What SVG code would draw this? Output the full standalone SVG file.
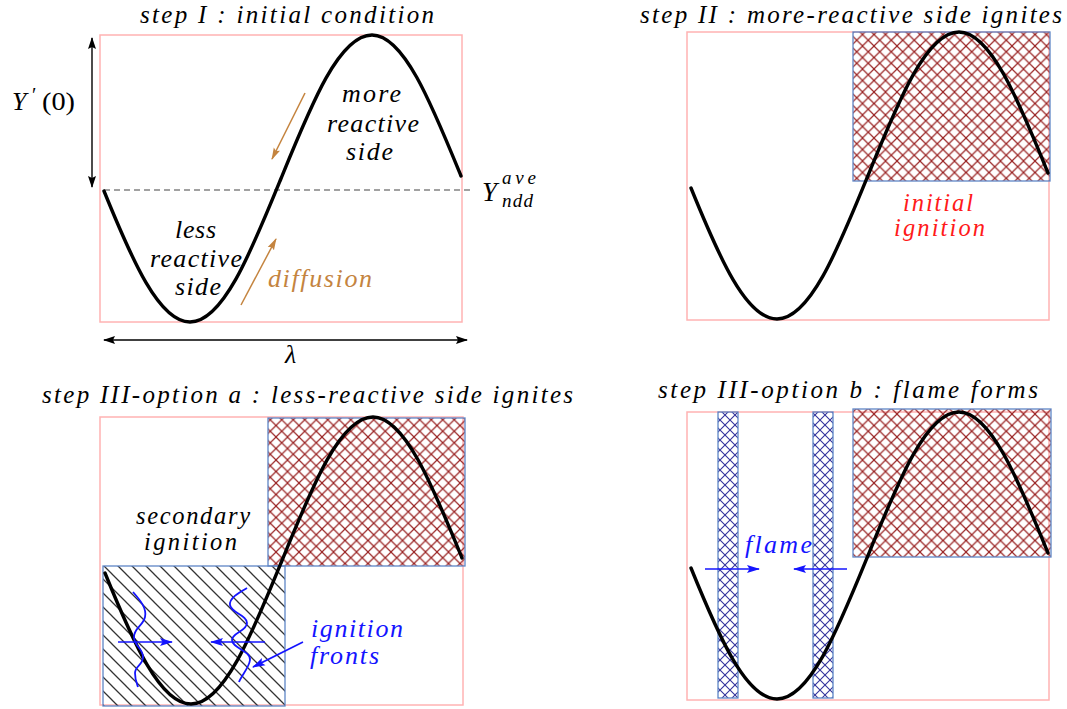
<svg xmlns="http://www.w3.org/2000/svg" xmlns:xlink="http://www.w3.org/1999/xlink" width="1067" height="709" viewBox="0 0 1067 709">
<style>
  .frame{fill:none;stroke:#ffb3b3;stroke-width:1.5}
  .wave{fill:none;stroke:#000;stroke-width:3.4;stroke-linecap:round}
  .hbox{stroke:#5f86c6;stroke-width:1.3}
  .blue{fill:#1414ff}
  .red{fill:#ff1a1a}
  .brown{fill:#c4843f}
  .ba{stroke:#000;stroke-width:1.4;fill:none}
  .bra{stroke:#c4843f;stroke-width:1.5;fill:none}
  .bla{stroke:#1414ff;stroke-width:1.6;fill:none}
</style>
<defs>
  <pattern id="xred" width="11.5" height="11.5" patternUnits="userSpaceOnUse">
    <path d="M0,0 L11.5,11.5 M11.5,0 L0,11.5" stroke="#9a2424" stroke-width="1.2" fill="none"/>
  </pattern>
  <pattern id="xblue" width="10" height="10" patternUnits="userSpaceOnUse">
    <path d="M0,0 L10,10 M10,0 L0,10" stroke="#34349c" stroke-width="1.1" fill="none"/>
  </pattern>
  <pattern id="hblack" width="14" height="14" patternUnits="userSpaceOnUse">
    <path d="M0,0 L14,14 M13,-1 L15,1 M-1,13 L1,15" stroke="#333" stroke-width="1.3" fill="none"/>
  </pattern>
  <marker id="ahk" markerWidth="12" markerHeight="10" refX="11" refY="5" orient="auto-start-reverse" markerUnits="userSpaceOnUse">
    <path d="M0,1 L12,5 L0,9 L2,5 Z" fill="#000"/>
  </marker>
  <marker id="ahb" markerWidth="12" markerHeight="8" refX="11" refY="4" orient="auto" markerUnits="userSpaceOnUse">
    <path d="M0,0.5 L12,4 L0,7.5 L2,4 Z" fill="#c4843f"/>
  </marker>
  <marker id="ahu" markerWidth="13" markerHeight="9" refX="12" refY="4.5" orient="auto" markerUnits="userSpaceOnUse">
    <path d="M0,0.5 L13,4.5 L0,8.5 L2.5,4.5 Z" fill="#1414ff"/>
  </marker>
  <path id="wave" class="wave" d="M104,191 C132,260 159,322 190,322 C223,322 251,252 281,178.5 C311,105 339,35 372,35 C404,35 432,105 461,176"/>
</defs>
<rect width="1067" height="709" fill="#fff"/>

<g id="panel1">
  <rect class="frame" x="100" y="35" width="362" height="287"/>
  <line x1="104" y1="190" x2="472" y2="190" stroke="#444" stroke-width="1.2" stroke-dasharray="6 4"/>
  <use xlink:href="#wave"/>
  <g font-family="Liberation Serif, serif" font-style="italic" font-size="26" fill="#000">
    <text x="140" y="23" font-size="25" textLength="294" lengthAdjust="spacing">step I : initial condition</text>
    <text x="12" y="110" textLength="20">Y</text>
    <text x="482" y="201" font-size="27">Y</text>
    <text x="502" y="184" font-size="19" textLength="34">ave</text>
    <text x="502" y="207" font-size="19" textLength="31">ndd</text>
    <text x="285" y="363">λ</text>
    <text x="342" y="102" textLength="59">more</text>
    <text x="327" y="132" textLength="92">reactive</text>
    <text x="346" y="160" textLength="47">side</text>
    <text x="175" y="238" textLength="41">less</text>
    <text x="150" y="267" textLength="92">reactive</text>
    <text x="175" y="295" textLength="46">side</text>
    <text class="brown" x="268" y="287" textLength="104">diffusion</text>
  </g>
  <g font-family="Liberation Serif, serif" font-size="26" fill="#000">
    <text x="32" y="102" font-size="20">′</text>
    <text x="42" y="110" textLength="33" lengthAdjust="spacingAndGlyphs">(0)</text>
  </g>
</g>

<g id="panel2">
  <rect class="frame" x="687" y="32" width="362" height="288"/>
  <rect class="hbox" x="853" y="32" width="197" height="149" fill="url(#xred)"/>
  <use xlink:href="#wave" transform="translate(587,-3)"/>
  <g font-family="Liberation Serif, serif" font-style="italic" font-size="25" fill="#000">
    <text x="640" y="23" textLength="422" lengthAdjust="spacing">step II : more-reactive side ignites</text>
    <text class="red" x="903" y="211" font-size="24.5" textLength="70">initial</text>
    <text class="red" x="894" y="236" font-size="24.5" textLength="91">ignition</text>
  </g>
</g>

<g id="panel3">
  <rect class="frame" x="100" y="417" width="363" height="288"/>
  <rect class="hbox" x="268" y="418" width="197" height="148" fill="url(#xred)"/>
  <rect class="hbox" x="103" y="566" width="182" height="140" fill="url(#hblack)"/>
  <use xlink:href="#wave" transform="translate(1,382)"/>
  <path d="M133,592 C140,600 147,608 145,617 C143,626 134,628 134,637 C134,646 143,648 143,657 C143,665 135,666 135,673 C135,680 137,684 138,687" stroke="#1414ff" stroke-width="1.8" fill="none"/>
  <path d="M247,588 C240,592 229,598 230,605 C231,613 247,615 247,623 C247,631 232,633 232,640 C232,648 251,651 250,660 C249,668 241,676 239,682" stroke="#1414ff" stroke-width="1.8" fill="none"/>
  <g font-family="Liberation Serif, serif" font-style="italic" font-size="25" fill="#000">
    <text x="42" y="403" textLength="531" lengthAdjust="spacing">step III-option a : less-reactive side ignites</text>
    <text x="136" y="524" font-size="24.5" textLength="114">secondary</text>
    <text x="144" y="550" font-size="24.5" textLength="93">ignition</text>
    <text class="blue" x="311" y="637" font-size="26" textLength="92">ignition</text>
    <text class="blue" x="310" y="664" font-size="26" textLength="69">fronts</text>
  </g>
</g>

<g id="panel4">
  <rect class="frame" x="687" y="412" width="362" height="288"/>
  <rect class="hbox" x="853" y="409" width="198" height="148" fill="url(#xred)"/>
  <rect class="hbox" x="718" y="412" width="20" height="286" fill="url(#xblue)"/>
  <rect class="hbox" x="813" y="412" width="20" height="286" fill="url(#xblue)"/>
  <use xlink:href="#wave" transform="translate(587,377)"/>
  <g font-family="Liberation Serif, serif" font-style="italic" font-size="25" fill="#000">
    <text x="658" y="398" textLength="380" lengthAdjust="spacing">step III-option b : flame forms</text>
    <text class="blue" x="745" y="553" font-size="26" textLength="67">flame</text>
  </g>
</g>

<g id="connectors">
  <line class="ba" x1="92" y1="38" x2="92" y2="187" marker-start="url(#ahk)" marker-end="url(#ahk)"/>
  <line class="ba" x1="104" y1="340" x2="467" y2="340" marker-start="url(#ahk)" marker-end="url(#ahk)"/>
  <line class="bra" x1="305" y1="93" x2="272" y2="159" marker-end="url(#ahb)"/>
  <line class="bra" x1="241" y1="305" x2="276" y2="239" marker-end="url(#ahb)"/>
  <line class="bla" x1="118" y1="642" x2="172" y2="642" marker-end="url(#ahu)"/>
  <line class="bla" x1="265" y1="642" x2="211" y2="642" marker-end="url(#ahu)"/>
  <line class="bla" x1="303" y1="642" x2="253" y2="667" marker-end="url(#ahu)"/>
  <line class="bla" x1="705" y1="569" x2="759" y2="569" marker-end="url(#ahu)"/>
  <line class="bla" x1="847" y1="569" x2="794" y2="569" marker-end="url(#ahu)"/>
</g>
</svg>
